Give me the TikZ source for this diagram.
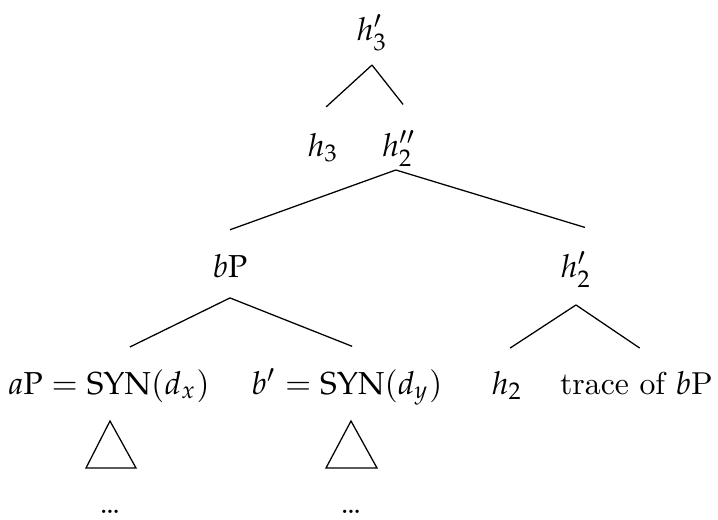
\documentclass[tikz,border=0pt]{standalone}
\usepackage{mathpazo}
\begin{document}
\begin{tikzpicture}[
  x=0.315pt, y=-0.315pt,
  tnode/.style={anchor=base, inner sep=3pt},
  thin
]
  \useasboundingbox (0,0) rectangle (718,520);
  % tree nodes
  \node[tnode] (h3p)   at (372,40)  {$h'_3$};
  \node[tnode] (h3)    at (323,156) {$h_3$};
  \node[tnode] (h2pp)  at (399,156) {$h''_2$};
  \node[tnode] (bP)    at (230,277) {$b\mathrm{P}$};
  \node[tnode] (h2p)   at (576,277) {$h'_2$};
  \node[tnode] (aP)    at (109,394) {$a\mathrm{P} = \mathrm{SYN}(d_x)$};
  \node[tnode] (bpr)   at (347,394) {$b' = \mathrm{SYN}(d_y)$};
  \node[tnode] (h2)    at (507,394) {$h_2$};
  \node[tnode, anchor=base east] (trace) at (723,394) {trace of $b$P};
  \node[tnode] (dotsa) at (110,513) {\ldots};
  \node[tnode] (dotsb) at (351,513) {\ldots};

  % branches
  \draw ([yshift=-1.4pt]h3p.south) -- ([xshift=1pt,yshift=5pt]h3.north);
  \draw ([yshift=-1.4pt]h3p.south) -- ([xshift=1.3pt,yshift=5pt]h2pp.north);
  \draw ([xshift=-1pt,yshift=2pt]h2pp.south) -- ([yshift=4.4pt]bP.north);
  \draw ([xshift=-1pt,yshift=2pt]h2pp.south) -- ([xshift=2.8pt,yshift=4.4pt]h2p.north);
  \draw ([yshift=-3.3pt]bP.south) -- ([xshift=6.6pt,yshift=3.8pt]aP.north);
  \draw ([yshift=-3.3pt]bP.south) -- ([xshift=1.6pt,yshift=3.8pt]bpr.north);
  \draw ([yshift=-2.4pt]h2p.south) -- ([xshift=1pt,yshift=4pt]h2.north);
  \draw ([yshift=-2.4pt]h2p.south) -- ([xshift=1pt,yshift=4pt]trace.north);

  % roofs
  \draw (110,421) -- (86,468) -- (136,468) -- cycle;
  \draw (351,421) -- (326,468) -- (377,468) -- cycle;
\end{tikzpicture}
\end{document}
